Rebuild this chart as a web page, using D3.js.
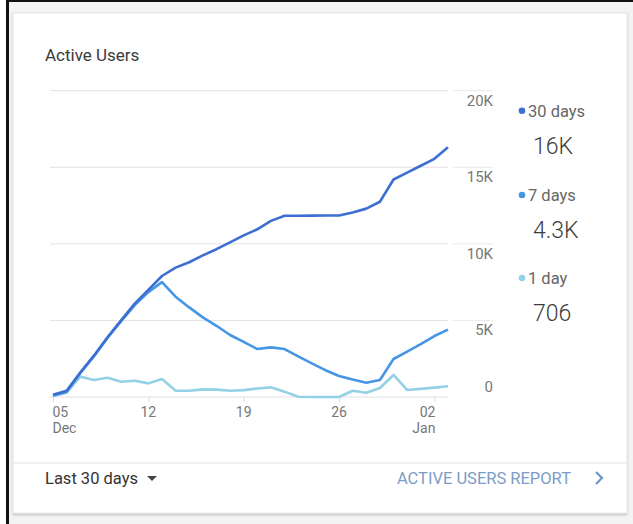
<!DOCTYPE html>
<html>
<head>
<meta charset="utf-8">
<script src="https://cdn.jsdelivr.net/npm/d3@7"></script>
<style>
  body { margin: 0; background: #fff; }
  svg { display: block; font-family: Roboto, "Noto Sans", sans-serif; }
</style>
</head>
<body>
<div id="chart"></div>
<script>
// Days shown on the chart (last 30 days)
const days = [
  '2021-12-05', '2021-12-06', '2021-12-07', '2021-12-08', '2021-12-09', '2021-12-10',
  '2021-12-11', '2021-12-12', '2021-12-13', '2021-12-14', '2021-12-15', '2021-12-16',
  '2021-12-17', '2021-12-18', '2021-12-19', '2021-12-20', '2021-12-21', '2021-12-22',
  '2021-12-23', '2021-12-24', '2021-12-25', '2021-12-26', '2021-12-27', '2021-12-28',
  '2021-12-29', '2021-12-30', '2021-12-31', '2022-01-01', '2022-01-02', '2022-01-03'
];

const users30 = [150, 400, 1600, 2700, 3900, 5000, 6100, 7000, 7900, 8450,
  8800, 9250, 9650, 10100, 10550, 10950, 11500, 11830, 11830, 11840,
  11850, 11850, 12050, 12300, 12750, 14200, 14650, 15100, 15550, 16300];

const users7 = [100, 350, 1550, 2650, 3850, 4950, 6000, 6850, 7500, 6550,
  5850, 5200, 4650, 4050, 3600, 3130, 3240, 3130, 2650, 2200,
  1750, 1370, 1150, 930, 1110, 2480, 2960, 3450, 3980, 4400];

const users1 = [60, 280, 1330, 1110, 1260, 1000, 1060, 890, 1175, 410,
  410, 500, 480, 410, 450, 560, 630, 350, 20, 0,
  0, 0, 410, 280, 590, 1440, 460, 530, 610, 706];

const seriesNames = ['30 days', '7 days', '1 day'];
const seriesTotals = ['16K', '4.3K', '706'];
const seriesColors = ['#3d6fd3', '#4696e6', '#93d1e4'];

const yTicks = [0, 5000, 10000, 15000, 20000];
const yTickLabels = ['0', '5K', '10K', '15K', '20K'];

const xTicks = ['2021-12-05', '2021-12-12', '2021-12-19', '2021-12-26', '2022-01-02'];
const xTickDay = ['05', '12', '19', '26', '02'];
const xTickMonth = ['Dec', '', '', '', 'Jan'];

const W = 633, H = 524;
const parse = d3.timeParse('%Y-%m-%d');

const svg = d3.select('#chart')
  .append('svg')
  .attr('width', W)
  .attr('height', H);

// page background + screenshot border
svg.append('rect').attr('width', W).attr('height', H).attr('fill', '#f3f3f3');
svg.append('rect').attr('x', 0).attr('y', 0).attr('width', 6).attr('height', H).attr('fill', '#fff');
svg.append('rect').attr('x', 6).attr('y', 0).attr('width', W - 6).attr('height', 2).attr('fill', '#111');
svg.append('rect').attr('x', 6).attr('y', 0).attr('width', 3).attr('height', H).attr('fill', '#111');

// card with soft shadow
const defs = svg.append('defs');
const f = defs.append('filter').attr('id', 'shadow').attr('x', '-5%').attr('y', '-5%').attr('width', '110%').attr('height', '110%');
f.append('feDropShadow').attr('dx', 0).attr('dy', 1.5).attr('stdDeviation', 1.2).attr('flood-color', '#000').attr('flood-opacity', 0.22);

svg.append('rect')
  .attr('x', 13).attr('y', 13)
  .attr('width', 614).attr('height', 500)
  .attr('fill', '#fff')
  .attr('stroke', '#e6e6e6')
  .attr('filter', 'url(#shadow)');

svg.append('text')
  .attr('x', 45).attr('y', 61)
  .attr('font-size', 17)
  .attr('fill', '#3a3a3a')
  .text('Active Users');

// Scales
const x = d3.scaleTime()
  .domain([parse(days[0]), parse(days[days.length - 1])])
  .range([53, 448]);

const y = d3.scaleLinear()
  .domain([0, 20000])
  .range([397, 90.7]);

// Gridlines
const grid = svg.append('g');
grid.selectAll('.g1')
  .data(yTicks)
  .enter()
  .append('line')
  .attr('x1', 50).attr('x2', 448)
  .attr('y1', d => y(d)).attr('y2', d => y(d))
  .attr('stroke', '#e2e2e2');
grid.selectAll('.g2')
  .data(yTicks.slice(1))
  .enter()
  .append('line')
  .attr('x1', 453).attr('x2', 493)
  .attr('y1', d => y(d)).attr('y2', d => y(d))
  .attr('stroke', '#e9e9e9');

// Y labels on the right, below each line (0 sits above)
svg.append('g')
  .selectAll('text')
  .data(yTicks)
  .enter()
  .append('text')
  .attr('x', 493)
  .attr('y', d => d === 0 ? y(d) - 5 : y(d) + 15)
  .attr('text-anchor', 'end')
  .attr('font-size', 15)
  .attr('fill', '#777')
  .text((d, i) => yTickLabels[i]);

// X axis
const xAxis = d3.axisBottom(x)
  .tickValues(xTicks.map(parse))
  .tickSize(5)
  .tickFormat('');

const xg = svg.append('g')
  .attr('transform', `translate(0,${y(0)})`)
  .call(xAxis);
xg.select('.domain').remove();
xg.selectAll('.tick line').attr('stroke', '#dcdcdc');

const anchors = ['start', 'middle', 'middle', 'middle', 'end'];
const nudge = [-0.5, 0, 0, 0, 1];
const xl = svg.append('g').attr('font-size', 14).attr('fill', '#777');
xTicks.forEach((t, i) => {
  const tx = x(parse(t)) + nudge[i];
  xl.append('text')
    .attr('x', tx).attr('y', 417)
    .attr('text-anchor', anchors[i])
    .text(xTickDay[i]);
  if (xTickMonth[i]) {
    xl.append('text')
      .attr('x', tx).attr('y', 433)
      .attr('text-anchor', anchors[i])
      .text(xTickMonth[i]);
  }
});

// Lines
const series = [users30, users7, users1];
const line = d3.line()
  .x((d, i) => x(parse(days[i])))
  .y(d => y(d));

[2, 1, 0].forEach(k => {
  svg.append('path')
    .datum(series[k])
    .attr('fill', 'none')
    .attr('stroke', seriesColors[k])
    .attr('stroke-width', 2.6)
    .attr('stroke-linejoin', 'round')
    .attr('d', line);
});

// Legend on the right
const legendY = [110.7, 195, 278];
const lg = svg.append('g');
seriesNames.forEach((name, i) => {
  lg.append('circle')
    .attr('cx', 522).attr('cy', legendY[i])
    .attr('r', 3.3)
    .attr('fill', seriesColors[i]);
  lg.append('text')
    .attr('x', 528).attr('y', legendY[i] + 6)
    .attr('font-size', 16.5)
    .attr('fill', '#666')
    .text(name);
  lg.append('text')
    .attr('x', 533).attr('y', legendY[i] + 43)
    .attr('font-size', 23)
    .attr('font-weight', 300)
    .attr('fill', '#3c3c3c')
    .text(seriesTotals[i]);
});

// Footer
svg.append('line')
  .attr('x1', 13).attr('x2', 627)
  .attr('y1', 463).attr('y2', 463)
  .attr('stroke', '#e3e3e3');

svg.append('text')
  .attr('x', 45).attr('y', 484)
  .attr('font-size', 16.5)
  .attr('fill', '#333')
  .text('Last 30 days');

svg.append('path')
  .attr('d', 'M147,476 L157,476 L152,481 Z')
  .attr('fill', '#444');

svg.append('text')
  .attr('x', 571).attr('y', 484)
  .attr('text-anchor', 'end')
  .attr('font-size', 16.5)
  .attr('fill', '#7b9dc7')
  .text('ACTIVE USERS REPORT');

svg.append('path')
  .attr('d', 'M596,472 L602,478 L596,484')
  .attr('fill', 'none')
  .attr('stroke', '#6f97c9')
  .attr('stroke-width', 2.2);
</script>
</body>
</html>
